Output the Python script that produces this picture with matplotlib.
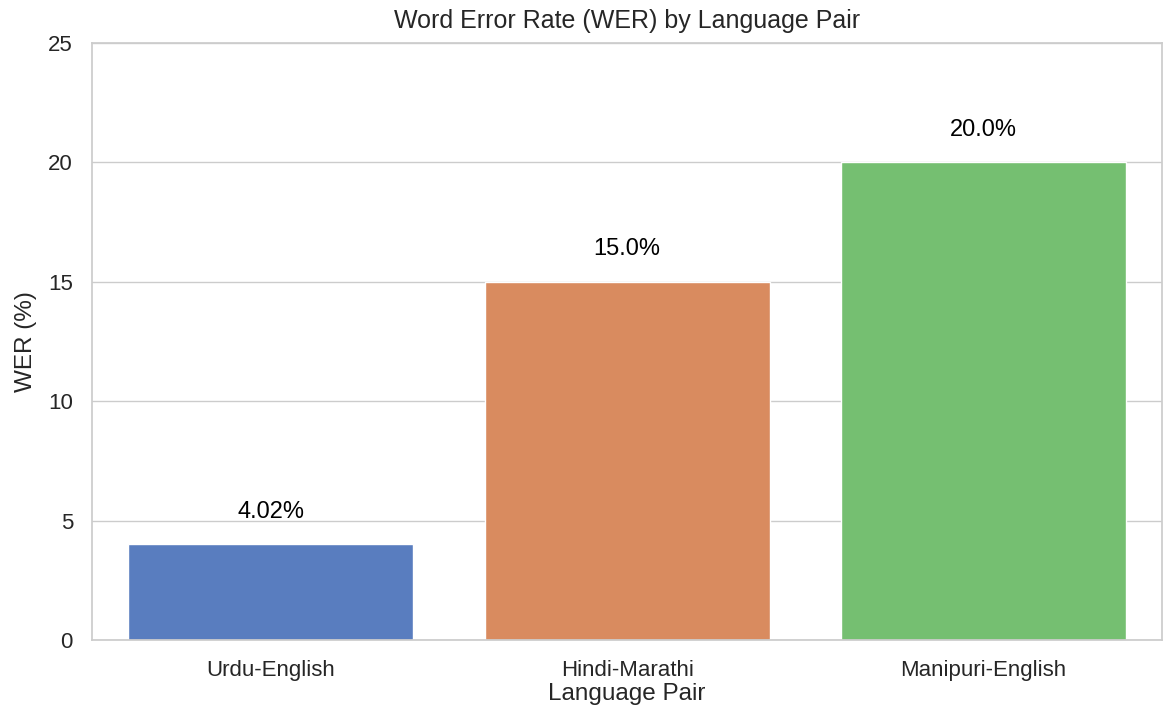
import matplotlib
matplotlib.use("Agg")
import matplotlib.pyplot as plt
import seaborn as sns

pairs = ["Urdu-English", "Hindi-Marathi", "Manipuri-English"]
wer = [4.02, 15.0, 20.0]
labels = ["4.02%", "15.0%", "20.0%"]

sns.set_theme(style="whitegrid")
plt.rcParams['font.family'] = ['Liberation Sans', 'DejaVu Sans']

fig, ax = plt.subplots(figsize=(11.7, 7.13), dpi=100)
sns.barplot(x=pairs, y=wer, hue=pairs, palette="muted", legend=False, ax=ax)

# value labels above each bar
for i, (v, t) in enumerate(zip(wer, labels)):
    ax.text(i, v + 0.9, t, ha="center", va="bottom", fontsize=17, color="black")

ax.set_ylim(0, 25)
ax.set_title("Word Error Rate (WER) by Language Pair", fontsize=18, pad=11)
ax.set_xlabel("Language Pair", fontsize=17.5, labelpad=2)
ax.set_ylabel("WER (%)", fontsize=17.5, labelpad=8)
ax.tick_params(labelsize=16, pad=8)

plt.subplots_adjust(left=0.079, right=0.993, top=0.94, bottom=0.102)
plt.savefig("out.png")
